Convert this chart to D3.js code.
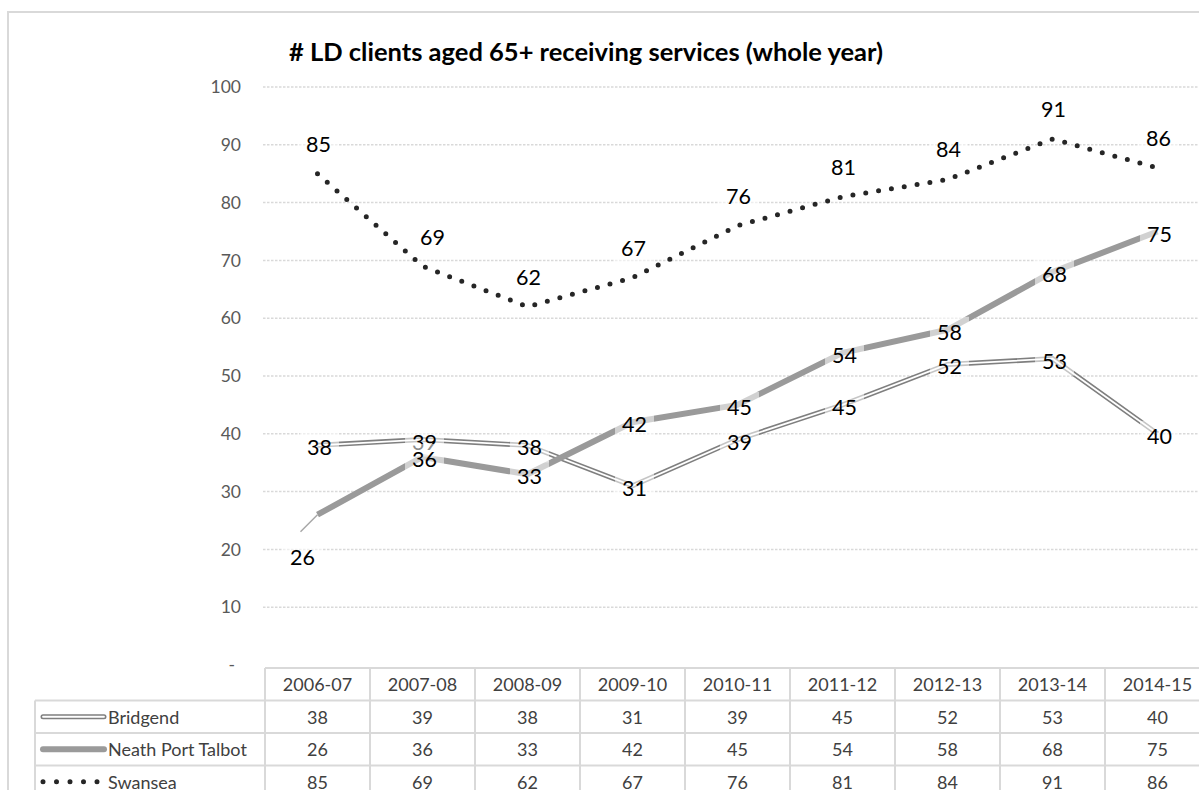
<!DOCTYPE html>
<html>
<head>
<meta charset="utf-8">
<script src="https://cdn.jsdelivr.net/npm/d3@7"></script>
<style>
  body { margin: 0; background: #fff; }
  svg text { font-family: Lato, "Open Sans", sans-serif; }
</style>
</head>
<body>
<div id="chart"></div>
<script>

let years = ["2006-07", "2007-08", "2008-09", "2009-10", "2010-11", "2011-12", "2012-13", "2013-14", "2014-15"];
let bridgend = [38, 39, 38, 31, 39, 45, 52, 53, 40];
let neath_port_talbot = [26, 36, 33, 42, 45, 54, 58, 68, 75];
let swansea = [85, 69, 62, 67, 76, 81, 84, 91, 86];
let series_names = ["Bridgend", "Neath Port Talbot", "Swansea"];
let y_ticks = [0, 10, 20, 30, 40, 50, 60, 70, 80, 90, 100];
let chart_title = "# LD clients aged 65+ receiving services (whole year)";

let series_values = [bridgend, neath_port_talbot, swansea];

let chart_width = 1199;
let chart_height = 790;

let svg = d3.select("#chart")
            .append("svg")
            .attr("width", chart_width)
            .attr("height", chart_height);

// outer chart border (runs off the right / bottom of the picture)
svg.append("rect")
    .attr("x", 8)
    .attr("y", 12)
    .attr("width", 1400)
    .attr("height", 900)
    .attr("fill", "none")
    .attr("stroke", "#d9d9d9")
    .attr("stroke-width", 2);

let plot_left = 265;
let plot_right = 1210;

let xScale = d3.scaleBand()
                .domain(years)
                .range([plot_left, plot_right])
                .paddingInner(0)
                .paddingOuter(0);

let yScale = d3.scaleLinear()
                .domain([0, 100])
                .range([665, 87]);

function x_mid(i) {
    return xScale(years[i]) + xScale.bandwidth() / 2;
}

svg.append("text")
    .attr("x", 586)
    .attr("y", 61)
    .attr("text-anchor", "middle")
    .style("font-size", "25.5px")
    .style("font-weight", "bold")
    .attr("fill", "#000")
    .text(chart_title);

// gridlines
svg.append("g")
    .selectAll("line")
    .data(y_ticks.filter(d => d > 0))
    .enter()
    .append("line")
    .attr("x1", 263)
    .attr("x2", plot_right)
    .attr("y1", d => yScale(d))
    .attr("y2", d => yScale(d))
    .attr("stroke", "#d9d9d9")
    .attr("stroke-width", 1.5)
    .attr("stroke-dasharray", "2.5 1.5");

let y_axis = svg.append("g")
    .attr("transform", "translate(263,0)")
    .call(d3.axisLeft(yScale)
            .tickValues(y_ticks)
            .tickSize(0)
            .tickPadding(22)
            .tickFormat(d => d === 0 ? "-" : d));

y_axis.select(".domain").remove();
y_axis.selectAll("text")
    .style("font-size", "17.5px")
    .attr("fill", "#595959")
    .attr("dx", d => d === 0 ? -6 : 0);

let line = d3.line()
            .x((d, i) => x_mid(i))
            .y(d => yScale(d));

// Bridgend: double line
svg.append("path")
    .datum(bridgend)
    .attr("d", line)
    .attr("fill", "none")
    .attr("stroke", "#7f7f7f")
    .attr("stroke-width", 5);
svg.append("path")
    .datum(bridgend)
    .attr("d", line)
    .attr("fill", "none")
    .attr("stroke", "#ffffff")
    .attr("stroke-width", 1.8);

// Neath Port Talbot: thick grey
svg.append("path")
    .datum(neath_port_talbot)
    .attr("d", line)
    .attr("fill", "none")
    .attr("stroke", "#9a9a9a")
    .attr("stroke-width", 6)
    .attr("stroke-linejoin", "round");

// Swansea: round dots
svg.append("path")
    .datum(swansea)
    .attr("d", line)
    .attr("fill", "none")
    .attr("stroke", "#262626")
    .attr("stroke-width", 5)
    .attr("stroke-linecap", "round")
    .attr("stroke-dasharray", "0 13");

// leader line for the first Neath Port Talbot label
svg.append("line")
    .attr("x1", x_mid(0))
    .attr("y1", yScale(neath_port_talbot[0]))
    .attr("x2", x_mid(0) - 17)
    .attr("y2", yScale(neath_port_talbot[0]) + 17)
    .attr("stroke", "#a6a6a6")
    .attr("stroke-width", 1.5);

// data labels (label offsets per series)
let label_offsets = [
    bridgend.map(() => [2, 2]),
    neath_port_talbot.map((d, i) => i === 0 ? [-15, 42] : [2, 2]),
    swansea.map((d, i) => i === 1 ? [10, -29] : [1, -30])
];

series_values.forEach(function(vals, s) {
    let g = svg.append("g").attr("class", "labels_" + s);
    vals.forEach(function(v, i) {
        let cx = x_mid(i) + label_offsets[s][i][0];
        let cy = yScale(v) + label_offsets[s][i][1];
        let lg = g.append("g");
        let rect = lg.append("rect");
        let txt = lg.append("text")
            .attr("x", cx)
            .attr("y", cy)
            .attr("text-anchor", "middle")
            .attr("dominant-baseline", "central")
            .style("font-size", "21.5px")
            .attr("fill", "#000")
            .text(v);
        let w = txt.node().getComputedTextLength() + 14;
        rect.attr("x", cx - w / 2)
            .attr("y", cy - 15)
            .attr("width", w)
            .attr("height", 30)
            .attr("fill", "#fff")
            .attr("fill-opacity", 0.55);
    });
});

// data table
let header_top = 668;
let row_h = 32.5;
let table_left = 35;
let grid_color = "#d9d9d9";
let table_font = "18px";

let table = svg.append("g");

// horizontal lines
table.append("line")
    .attr("x1", plot_left).attr("x2", plot_right)
    .attr("y1", header_top).attr("y2", header_top)
    .attr("stroke", grid_color).attr("stroke-width", 2);
for (let r = 1; r <= 3; r++) {
    table.append("line")
        .attr("x1", table_left).attr("x2", plot_right)
        .attr("y1", header_top + r * row_h).attr("y2", header_top + r * row_h)
        .attr("stroke", grid_color).attr("stroke-width", 2);
}
// vertical lines
table.append("line")
    .attr("x1", table_left).attr("x2", table_left)
    .attr("y1", header_top + row_h).attr("y2", chart_height)
    .attr("stroke", grid_color).attr("stroke-width", 2);
table.selectAll(".col_line")
    .data(years)
    .enter()
    .append("line")
    .attr("class", "col_line")
    .attr("x1", d => xScale(d)).attr("x2", d => xScale(d))
    .attr("y1", header_top).attr("y2", chart_height)
    .attr("stroke", grid_color).attr("stroke-width", 2);

table.selectAll(".year_text")
    .data(years)
    .enter()
    .append("text")
    .attr("class", "year_text")
    .attr("x", d => xScale(d) + xScale.bandwidth() / 2)
    .attr("y", header_top + row_h / 2)
    .attr("text-anchor", "middle")
    .attr("dominant-baseline", "central")
    .style("font-size", table_font)
    .attr("fill", "#404040")
    .text(d => d);

series_values.forEach(function(vals, s) {
    let cy = header_top + row_h * (s + 1) + row_h / 2;
    table.selectAll(".val_" + s)
        .data(vals)
        .enter()
        .append("text")
        .attr("x", (d, i) => x_mid(i))
        .attr("y", cy)
        .attr("text-anchor", "middle")
        .attr("dominant-baseline", "central")
        .style("font-size", table_font)
        .attr("fill", "#404040")
        .text(d => d);

    table.append("text")
        .attr("x", 108)
        .attr("y", cy)
        .attr("dominant-baseline", "central")
        .style("font-size", table_font)
        .attr("fill", "#404040")
        .text(series_names[s]);
});

// legend keys inside the table
let key_y = s => header_top + row_h * (s + 1) + row_h / 2;
table.append("line")
    .attr("x1", 43).attr("x2", 104).attr("y1", key_y(0)).attr("y2", key_y(0))
    .attr("stroke", "#7f7f7f").attr("stroke-width", 5).attr("stroke-linecap", "round");
table.append("line")
    .attr("x1", 43).attr("x2", 104).attr("y1", key_y(0)).attr("y2", key_y(0))
    .attr("stroke", "#fff").attr("stroke-width", 1.8).attr("stroke-linecap", "round");
table.append("line")
    .attr("x1", 43).attr("x2", 104).attr("y1", key_y(1)).attr("y2", key_y(1))
    .attr("stroke", "#9a9a9a").attr("stroke-width", 6).attr("stroke-linecap", "round");
table.append("line")
    .attr("x1", 43).attr("x2", 98).attr("y1", key_y(2)).attr("y2", key_y(2))
    .attr("stroke", "#262626").attr("stroke-width", 5)
    .attr("stroke-linecap", "round").attr("stroke-dasharray", "0 13.5");

</script>
</body>
</html>
